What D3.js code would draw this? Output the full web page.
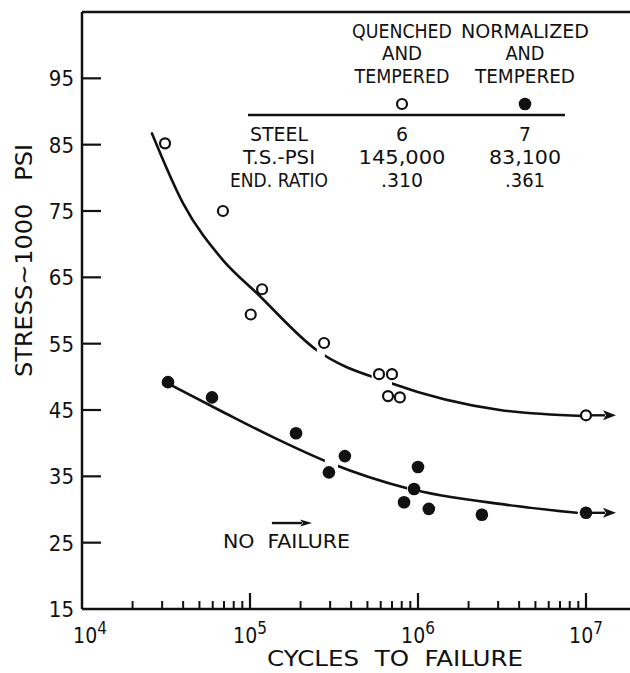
<!DOCTYPE html>
<html>
<head>
<meta charset="utf-8">
<script src="https://cdn.jsdelivr.net/npm/d3@7"></script>
<style>
  html, body { margin: 0; padding: 0; background: #fff; }
  svg { display: block; }
  text { font-family: "DejaVu Sans Condensed", "DejaVu Sans", sans-serif; fill: #111; }
</style>
</head>
<body>
<div id="chart"></div>
<script>
// ---- data (cycles, stress in ksi) ----
const xExponents = [4, 5, 6, 7];
const yTickValues = [15, 25, 35, 45, 55, 65, 75, 85, 95];

// steel 6, quenched and tempered (hollow)
const quenchedCycles = [3.12e4, 6.9e4, 1.18e5, 1.01e5, 2.76e5, 5.86e5, 7.0e5, 6.63e5, 7.8e5, 1.0e7];
const quenchedStress = [85.2, 75.0, 63.2, 59.4, 55.1, 50.4, 50.4, 47.1, 46.9, 44.2];

// steel 7, normalized and tempered (filled)
const normalizedCycles = [3.25e4, 5.94e4, 1.88e5, 2.95e5, 3.67e5, 8.26e5, 9.47e5, 1.0e6, 1.16e6, 2.4e6, 1.0e7];
const normalizedStress = [49.2, 46.9, 41.5, 35.6, 38.05, 31.1, 33.1, 36.4, 30.1, 29.2, 29.5];

// hand drawn fit curves
const upperCurveCycles = [2.61e4, 3.99e4, 6.9e4, 1.10e5, 2.5e5, 7.0e5, 3.07e6, 9.6e6];
const upperCurveStress = [86.7, 76.2, 67.6, 62.6, 54.0, 49.0, 45.0, 44.1];
const upperBreaks = [[2.5e5, 2.79e5], [5.3e5, 7.0e5]];

const lowerCurveCycles = [3.48e4, 6.9e4, 1.37e5, 3.0e5, 8.6e5, 3.39e6, 8.8e6];
const lowerCurveStress = [48.6, 44.7, 40.9, 37.0, 33.2, 30.7, 29.5];
const lowerBreaks = [[2.79e5, 3.34e5], [8.6e5, 1.02e6]];

// "no failure" runouts (points with an arrow)
const runouts = [{n: 1.0e7, s: 44.2}, {n: 1.0e7, s: 29.5}];

// legend table
const legendHeads = [["QUENCHED", "AND", "TEMPERED"], ["NORMALIZED", "AND", "TEMPERED"]];
const rowLabels = ["STEEL", "T.S.-PSI", "END. RATIO"];
const steel6 = ["6", "145,000", ".310"];
const steel7 = ["7", "83,100", ".361"];

const width = 630, height = 673;

const svg = d3.select("#chart").append("svg")
    .attr("width", width)
    .attr("height", height);

const x = d3.scaleLog().domain([1e4, 1e7]).range([82, 586]);
const y = d3.scaleLinear().domain([15, 105]).range([609, 12]);

const ink = "#111";

// ---- frame ----
svg.append("line").attr("x1", x(1e4)).attr("x2", width).attr("y1", y(105)).attr("y2", y(105))
    .attr("stroke", ink).attr("stroke-width", 2.5);
svg.append("line").attr("x1", x(1e4)).attr("x2", x(1e4)).attr("y1", y(105)).attr("y2", y(15))
    .attr("stroke", ink).attr("stroke-width", 2.5);
svg.append("line").attr("x1", x(1e4)).attr("x2", width).attr("y1", y(15)).attr("y2", y(15))
    .attr("stroke", ink).attr("stroke-width", 2.5);

// ---- y ticks (drawn inward) ----
yTickValues.filter(v => v > 15).forEach(v => {
    svg.append("line")
        .attr("x1", x(1e4)).attr("x2", x(1e4) + 19)
        .attr("y1", y(v)).attr("y2", y(v))
        .attr("stroke", ink).attr("stroke-width", 2.2);
});
svg.append("g").selectAll("text")
    .data(yTickValues)
    .join("text")
    .attr("x", x(1e4) - 8)
    .attr("y", d => y(d) + 8)
    .attr("text-anchor", "end")
    .attr("font-size", 22)
    .text(d => d);

// ---- x ticks (log, drawn upward) ----
const minorTicks = [];
xExponents.slice(0, -1).forEach(e => {
    for (let k = 2; k <= 9; k++) minorTicks.push(k * Math.pow(10, e));
});
svg.append("g").selectAll("line")
    .data(minorTicks)
    .join("line")
    .attr("x1", d => x(d)).attr("x2", d => x(d))
    .attr("y1", y(15)).attr("y2", y(15) - 8)
    .attr("stroke", ink).attr("stroke-width", 2);
svg.append("g").selectAll("line")
    .data(xExponents.slice(1))
    .join("line")
    .attr("x1", d => x(Math.pow(10, d))).attr("x2", d => x(Math.pow(10, d)))
    .attr("y1", y(15)).attr("y2", y(15) - 16)
    .attr("stroke", ink).attr("stroke-width", 2.2);

const xl = svg.append("g").selectAll("text")
    .data(xExponents)
    .join("text")
    .attr("x", (d, i) => x(Math.pow(10, d)) + (i === 0 ? 8 : 0))
    .attr("y", 643)
    .attr("text-anchor", "middle")
    .attr("font-size", 21);
xl.append("tspan").text("10");
xl.append("tspan").attr("dy", -9).attr("font-size", 17).text(d => d);

// ---- axis titles ----
svg.append("text")
    .attr("x", 267).attr("y", 666)
    .attr("font-size", 22)
    .attr("textLength", 256).attr("lengthAdjust", "spacingAndGlyphs")
    .attr("xml:space", "preserve")
    .text("CYCLES  TO  FAILURE");

svg.append("text")
    .attr("transform", "translate(32,377) rotate(-90)")
    .attr("font-size", 23)
    .attr("textLength", 233).attr("lengthAdjust", "spacingAndGlyphs")
    .attr("xml:space", "preserve")
    .text("STRESS~1000   PSI");

// ---- fit curves, with the small breaks of the drawing ----
function drawCurve(cycles, stress, breaks, id) {
    const pts = cycles.map((c, i) => [x(c), y(stress[i])]);
    const clip = svg.append("clipPath").attr("id", id);
    let start = 0;
    breaks.forEach(b => {
        clip.append("rect").attr("x", start).attr("y", 0)
            .attr("width", x(b[0]) - start).attr("height", height);
        start = x(b[1]);
    });
    clip.append("rect").attr("x", start).attr("y", 0).attr("width", width - start).attr("height", height);
    svg.append("path")
        .attr("d", d3.line().curve(d3.curveMonotoneX)(pts))
        .attr("clip-path", `url(#${id})`)
        .attr("fill", "none")
        .attr("stroke", ink)
        .attr("stroke-width", 2.6)
        .attr("stroke-linecap", "round");
}
drawCurve(upperCurveCycles, upperCurveStress, upperBreaks, "clip-upper");
drawCurve(lowerCurveCycles, lowerCurveStress, lowerBreaks, "clip-lower");

// ---- runout arrows ----
function arrow(x0, x1, yy, headLen, headHalf) {
    svg.append("line").attr("x1", x0).attr("x2", x1 - headLen + 2)
        .attr("y1", yy).attr("y2", yy).attr("stroke", ink).attr("stroke-width", 2.4);
    svg.append("path")
        .attr("d", `M${x1},${yy} L${x1 - headLen},${yy - headHalf} L${x1 - headLen + 3},${yy} L${x1 - headLen},${yy + headHalf} Z`)
        .attr("fill", ink);
}
runouts.forEach(r => arrow(x(r.n) + 6, 616, y(r.s), 13, 5));

// ---- points ----
svg.append("g").selectAll("circle")
    .data(quenchedCycles.map((c, i) => ({c, s: quenchedStress[i]})))
    .join("circle")
    .attr("cx", d => x(d.c)).attr("cy", d => y(d.s))
    .attr("r", 5)
    .attr("fill", "#fff").attr("stroke", ink).attr("stroke-width", 2.2);

svg.append("g").selectAll("circle")
    .data(normalizedCycles.map((c, i) => ({c, s: normalizedStress[i]})))
    .join("circle")
    .attr("cx", d => x(d.c)).attr("cy", d => y(d.s))
    .attr("r", 6.3)
    .attr("fill", ink);

// ---- "no failure" note ----
const noteArrow = {from: 1.35e5, to: 2.34e5, s: 27.96};
arrow(x(noteArrow.from), x(noteArrow.to), y(noteArrow.s), 12, 3.5);
svg.append("text")
    .attr("x", x(6.9e4)).attr("y", y(24.2))
    .attr("font-size", 19)
    .attr("textLength", 127).attr("lengthAdjust", "spacingAndGlyphs")
    .attr("xml:space", "preserve")
    .text("NO  FAILURE");

// ---- legend table ----
const colX = [279, 402, 525];
const headY = [38, 60, 83];
const bodyY = [141, 164, 187];
const headW = [[100, 40, 95], [128, 39, 100]];
legendHeads.forEach((col, j) => {
    col.forEach((t, i) => {
        svg.append("text")
            .attr("x", colX[j + 1] - headW[j][i] / 2).attr("y", headY[i])
            .attr("font-size", 20)
            .attr("textLength", headW[j][i]).attr("lengthAdjust", "spacingAndGlyphs")
            .text(t);
    });
});
svg.append("circle").attr("cx", colX[1]).attr("cy", 104).attr("r", 5)
    .attr("fill", "#fff").attr("stroke", ink).attr("stroke-width", 2.2);
svg.append("circle").attr("cx", colX[2]).attr("cy", 104).attr("r", 6.3).attr("fill", ink);
svg.append("line").attr("x1", 248).attr("x2", 565).attr("y1", 115).attr("y2", 115)
    .attr("stroke", ink).attr("stroke-width", 2.4);

const bodyW = [[58, 72, 98], [12, 87, 42], [12, 72, 40]];
[rowLabels, steel6, steel7].forEach((col, j) => {
    col.forEach((t, i) => {
        svg.append("text")
            .attr("x", colX[j] - bodyW[j][i] / 2).attr("y", bodyY[i])
            .attr("font-size", 20)
            .attr("textLength", bodyW[j][i]).attr("lengthAdjust", "spacingAndGlyphs")
            .text(t);
    });
});
</script>
</body>
</html>
